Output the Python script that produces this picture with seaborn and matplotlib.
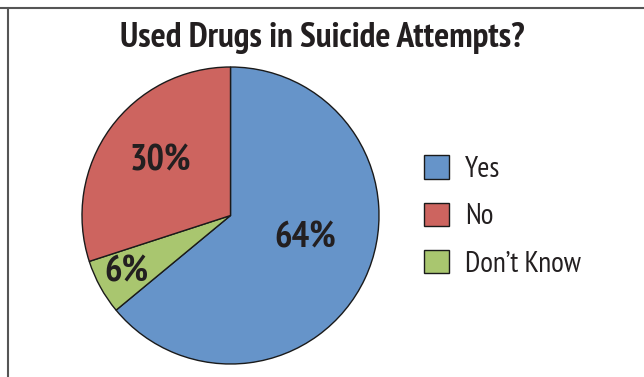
import matplotlib
matplotlib.use("Agg")
import matplotlib.pyplot as plt
from matplotlib.lines import Line2D
import seaborn as sns

# Survey answers, drawn clockwise from 12 o'clock
categories = ["Yes", "Don\u2019t Know", "No"]
shares = [64, 6, 30]
legend_order = ["Yes", "No", "Don\u2019t Know"]
title = "Used Drugs in Suicide Attempts?"

sns.set_theme(style="white")
palette = {"Yes": "#6694C9", "No": "#CD645F", "Don\u2019t Know": "#A9C66F"}
plt.rcParams["font.family"] = ["PT Sans Narrow", "Fira Sans Condensed", "DejaVu Sans"]

W, H = 644, 377
fig = plt.figure(figsize=(W / 100, H / 100), dpi=100)
fig.patch.set_facecolor("white")

# Pie area: square axes in pixel units
cx, cy, r = 230.5, 215.5, 148.5
ax = fig.add_axes([(cx - r) / W, (H - cy - r) / H, 2 * r / W, 2 * r / H])

wedges, _ = ax.pie(
    shares,
    colors=[palette[c] for c in categories],
    startangle=90,
    counterclock=False,
    radius=1,
    wedgeprops=dict(edgecolor="#1a1a1a", linewidth=1.0),
)
ax.set_xlim(-1, 1)
ax.set_ylim(-1, 1)
ax.set_aspect("equal")
ax.axis("off")

# Percentage labels inside the slices
label_pos = {"Yes": (0.50, -0.15), "No": (-0.47, 0.37), "Don\u2019t Know": (-0.70, -0.38)}
for cat, val in zip(categories, shares):
    x, y = label_pos[cat]
    ax.text(x, y, f"{val}%", ha="center", va="center", fontsize=26.5,
            fontweight="bold", color="#231f20")

# Title
fig.text(0.5, 1 - 38 / H, title, ha="center", va="center", fontsize=25.5,
         fontweight="bold", color="#231f20")

# Legend
handle_map = dict(zip(categories, wedges))
leg = fig.legend(
    [handle_map[c] for c in legend_order], legend_order,
    loc="upper left", bbox_to_anchor=(398 / W, 1 - 129 / H),
    frameon=False, fontsize=21, handlelength=0.85, handleheight=0.85,
    labelspacing=0.67, handletextpad=0.55,
)
for t in leg.get_texts():
    t.set_color("#231f20")

# Outer frame lines (top and left)
fig.add_artist(Line2D([0, 1], [1 - 7.5 / H, 1 - 7.5 / H], transform=fig.transFigure,
                      color="#555555", linewidth=1.5))
fig.add_artist(Line2D([8 / W, 8 / W], [0, 1 - 7.5 / H], transform=fig.transFigure,
                      color="#555555", linewidth=1.5))

fig.savefig("out.png", dpi=100)
